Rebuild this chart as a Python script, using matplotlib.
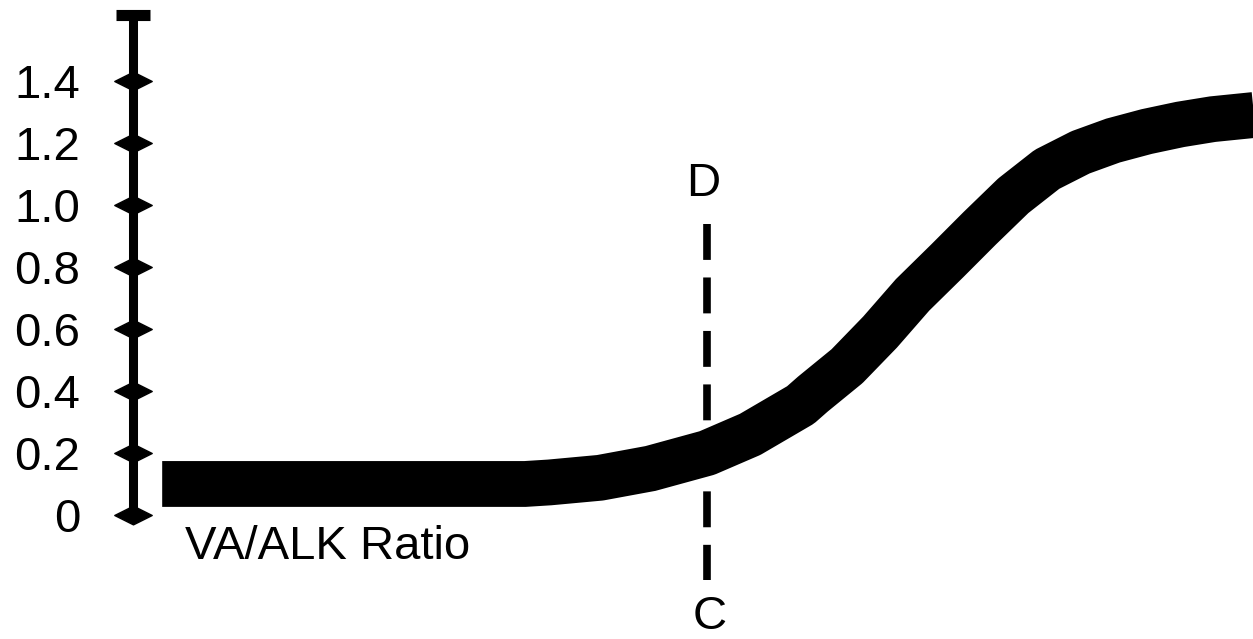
import matplotlib
matplotlib.use("Agg")
import matplotlib.pyplot as plt
from matplotlib.path import Path

plt.rcParams['font.family'] = ['Liberation Sans', 'DejaVu Sans']

# values (x is an arbitrary 0-100 position scale)
curve_x = [2.6, 14.9, 28.3, 32.8, 35.0, 37.2, 41.7, 46.2, 51.25, 55.1, 59.6,
           60.7, 63.75, 66.7, 69.6, 72.7, 75.6, 78.6, 81.6, 84.6, 87.5,
           90.5, 93.5, 96.4, 100.5]
curve_y = [0.10, 0.10, 0.10, 0.10, 0.10, 0.105, 0.12, 0.15, 0.20, 0.26, 0.355,
           0.39, 0.48, 0.59, 0.71, 0.82, 0.925, 1.03, 1.115, 1.17, 1.208,
           1.237, 1.26, 1.277, 1.292]
tick_vals = [0, 0.2, 0.4, 0.6, 0.8, 1.0, 1.2, 1.4]
tick_labels = ["0", "0.2", "0.4", "0.6", "0.8", "1.0", "1.2", "1.4"]
cd_x = 51.25
cd_y = [0.94, -0.21]
y_top = 1.613

fig = plt.figure(figsize=(12.53, 6.39), dpi=100)
ax = fig.add_axes([0.1062, 0.1941, 0.8938, 0.7824])
ax.set_xlim(0, 100)
ax.set_ylim(0, y_top)

for s in ["top", "right", "bottom"]:
    ax.spines[s].set_visible(False)
ax.spines["left"].set_linewidth(6.5)
ax.spines["left"].set_capstyle("butt")
ax.set_xticks([])
ax.set_yticks(tick_vals)
ax.set_yticklabels(tick_labels, fontsize=34)
ax.tick_params(axis="y", length=0, pad=38)

# tick marks drawn as flat diamonds on the axis line
diamond = Path([(-1, 0), (0, 0.5), (1, 0), (0, -0.5), (-1, 0)],
               [Path.MOVETO, Path.LINETO, Path.LINETO, Path.LINETO, Path.CLOSEPOLY])
ax.plot([0] * len(tick_vals), tick_vals, linestyle="none", marker=diamond,
        markersize=27, color="black", clip_on=False, zorder=5)
ax.plot([0], [y_top], linestyle="none", marker="_", markersize=24,
        markeredgewidth=8, color="black", clip_on=False, zorder=5)

# C-D dashed line behind the curve
ax.plot([cd_x, cd_x], cd_y, color="black", lw=5.5, dashes=(4.7, 2.3),
        dash_capstyle="butt", clip_on=False, zorder=1)
ax.text(cd_x - 0.3, 1.068, "D", fontsize=34, ha="center", va="center")
ax.text(cd_x + 0.2, -0.33, "C", fontsize=34, ha="center", va="center", clip_on=False)

ax.plot(curve_x, curve_y, color="black", lw=33, solid_capstyle="butt",
        solid_joinstyle="round", zorder=3)

ax.text(4.6, -0.103, "VA/ALK Ratio", fontsize=34, ha="left", va="center")

plt.savefig("out.png", dpi=100)
